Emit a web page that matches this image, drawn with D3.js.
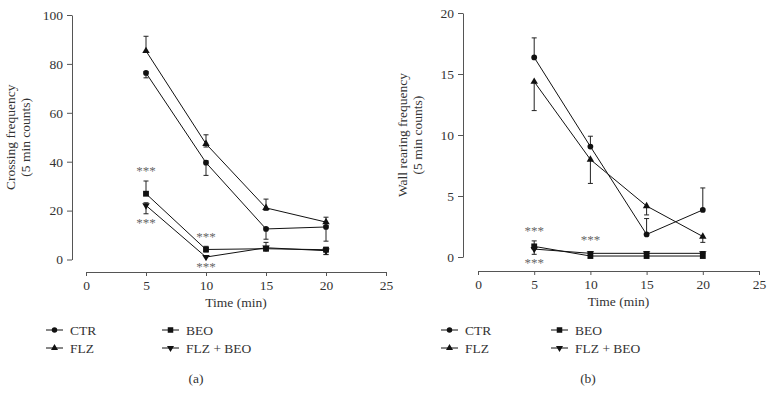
<!DOCTYPE html>
<html>
<head>
<meta charset="utf-8">
<script src="https://cdn.jsdelivr.net/npm/d3@7"></script>
<style>
  body { margin: 0; background: #fff; }
  svg text { font-family: "Liberation Serif", "DejaVu Serif", serif; fill: #333; }
</style>
</head>
<body>
<svg id="chart" width="773" height="400"></svg>
<script>
// ── data ──────────────────────────────────────────
const TIMES = [5, 10, 15, 20];
const X_TICKS = [0, 5, 10, 15, 20, 25];
const GROUPS = ["CTR", "FLZ", "BEO", "FLZ + BEO"];

// (a) crossing frequency
const CROSS_CTR     = [76.3, 39.6, 12.5, 13.3];
const CROSS_CTR_HI  = [0.5, 0.8, 0.5, 0.5];
const CROSS_CTR_LO  = [2.0, 5.2, 4.2, 5.8];
const CROSS_FLZ     = [85.3, 47.3, 21.1, 15.3];
const CROSS_FLZ_HI  = [6.0, 3.7, 3.6, 2.0];
const CROSS_FLZ_LO  = [0, 1.3, 1.0, 0];
const CROSS_BEO     = [26.9, 4.1, 4.4, 4.0];
const CROSS_BEO_HI  = [5.2, 1.3, 2.6, 1.0];
const CROSS_BEO_LO  = [0, 1.0, 0.8, 2.0];
const CROSS_FB      = [22.1, 1.0, 4.8, 3.6];
const CROSS_FB_HI   = [1.1, 0, 0, 0];
const CROSS_FB_LO   = [3.4, 0, 0.8, 1.5];
const CROSS_Y_TICKS = [0, 20, 40, 60, 80, 100];
const CROSS_STARS   = [[5, 36.5], [5, 15.2], [10, 9.8], [10, -2.6]];

// (b) wall rearing frequency
const REAR_CTR      = [16.36, 9.05, 1.85, 3.86];
const REAR_CTR_HI   = [1.6, 0.85, 1.3, 1.8];
const REAR_CTR_LO   = [0, 0, 0, 0];
const REAR_FLZ      = [14.37, 7.99, 4.18, 1.68];
const REAR_FLZ_HI   = [0, 0, 0, 0];
const REAR_FLZ_LO   = [2.37, 1.96, 0.73, 0.48];
const REAR_BEO      = [0.87, 0.08, 0.08, 0.08];
const REAR_BEO_HI   = [0.45, 0.2, 0.2, 0.2];
const REAR_BEO_LO   = [0, 0, 0, 0];
const REAR_FB       = [0.65, 0.3, 0.3, 0.3];
const REAR_FB_HI    = [0, 0.15, 0.15, 0.15];
const REAR_FB_LO    = [0.43, 0, 0, 0];
const REAR_Y_TICKS  = [0, 5, 10, 15, 20];
const REAR_STARS    = [[5, 2.25], [5, -0.45], [10, 1.45]];

// ── drawing ───────────────────────────────────────
const svg = d3.select("#chart");
const FS = "13.5px";
const MARKERS = {
    "CTR": { type: d3.symbolCircle, size: 26, rot: 0 },
    "FLZ": { type: d3.symbolTriangle, size: 24, rot: 0 },
    "BEO": { type: d3.symbolSquare, size: 34, rot: 0 },
    "FLZ + BEO": { type: d3.symbolTriangle, size: 24, rot: 180 }
};
const AXIS_COLOR = "#555";

function styleAxis(sel) {
    sel.selectAll(".domain").attr("stroke", AXIS_COLOR);
    sel.selectAll("line").attr("stroke", AXIS_COLOR);
    sel.selectAll("text").style("font-size", FS);
}

function drawMarker(g, name, x, y, scale = 1) {
    const m = MARKERS[name];
    g.append("path")
        .attr("d", d3.symbol().type(m.type).size(m.size * scale)())
        .attr("transform", `translate(${x},${y}) rotate(${m.rot})`)
        .attr("fill", "#111");
}

function drawPanel(p) {
    const x = d3.scaleLinear().domain([0, 25]).range([p.x0, p.x1]);
    const y = d3.scaleLinear().domain([0, p.yMax]).range([p.yBottom, p.yTop]);

    const xAx = svg.append("g").attr("transform", `translate(0,${p.xAxisY})`)
        .call(d3.axisBottom(x).tickValues(X_TICKS).tickSize(4).tickSizeOuter(0).tickPadding(4));
    styleAxis(xAx);
    const yAx = svg.append("g").attr("transform", `translate(${p.yAxisX},0)`)
        .call(d3.axisLeft(y).tickValues(p.yTicks).tickSize(5).tickSizeOuter(0).tickPadding(4));
    styleAxis(yAx);

    svg.append("text").attr("x", (p.x0 + p.x1) / 2).attr("y", p.xAxisY + 35)
        .attr("text-anchor", "middle").style("font-size", FS).text("Time (min)");

    const yMid = (p.yTop + p.yBottom) / 2;
    p.yLabel.forEach((line, i) => {
        svg.append("text")
            .attr("transform", `translate(${p.yLabelX + i * 15},${yMid}) rotate(-90)`)
            .attr("text-anchor", "middle").style("font-size", FS).text(line);
    });

    const line = d3.line().x((d, i) => x(TIMES[i])).y(d => y(d));
    const plot = svg.append("g");
    p.series.forEach(s => {
        // error bars
        s.v.forEach((v, i) => {
            const cx = x(TIMES[i]);
            const top = y(v + s.hi[i]), bot = y(v - s.lo[i]);
            if (s.hi[i] > 0 || s.lo[i] > 0) {
                plot.append("line").attr("x1", cx).attr("x2", cx).attr("y1", top).attr("y2", bot)
                    .attr("stroke", "#222").attr("stroke-width", 1);
            }
            if (s.hi[i] > 0) plot.append("line").attr("x1", cx - 2.5).attr("x2", cx + 2.5)
                .attr("y1", top).attr("y2", top).attr("stroke", "#222");
            if (s.lo[i] > 0) plot.append("line").attr("x1", cx - 2.5).attr("x2", cx + 2.5)
                .attr("y1", bot).attr("y2", bot).attr("stroke", "#222");
        });
        plot.append("path").attr("d", line(s.v)).attr("fill", "none")
            .attr("stroke", "#111").attr("stroke-width", 1);
        s.v.forEach((v, i) => drawMarker(plot, s.name, x(TIMES[i]), y(v)));
    });

    p.stars.forEach(([t, v]) => {
        svg.append("text").attr("x", x(t)).attr("y", y(v) + 5)
            .attr("text-anchor", "middle").style("font-size", "13px")
            .style("fill", "#666").text("***");
    });

    // legend
    GROUPS.forEach((name, i) => {
        const col = i < 2 ? 0 : 1, row = i % 2;
        const lx = p.legendX + col * p.legendColW;
        const ly = 330 + row * 18;
        svg.append("line").attr("x1", lx).attr("x2", lx + 17).attr("y1", ly).attr("y2", ly)
            .attr("stroke", "#111");
        drawMarker(svg, name, lx + 8.5, ly, 0.9);
        svg.append("text").attr("x", lx + 24).attr("y", ly + 4.5)
            .style("font-size", FS).text(name);
    });

    svg.append("text").attr("x", p.tagX).attr("y", 383)
        .attr("text-anchor", "middle").style("font-size", FS).text(p.tag);
}

drawPanel({
    x0: 86, x1: 386, xAxisY: 272, yAxisX: 72, yTop: 15, yBottom: 259.5, yMax: 100,
    yTicks: CROSS_Y_TICKS, yLabel: ["Crossing frequency", "(5 min counts)"], yLabelX: 15,
    stars: CROSS_STARS, legendX: 46, legendColW: 116, tag: "(a)", tagX: 196,
    series: [
        { name: "CTR", v: CROSS_CTR, hi: CROSS_CTR_HI, lo: CROSS_CTR_LO },
        { name: "FLZ", v: CROSS_FLZ, hi: CROSS_FLZ_HI, lo: CROSS_FLZ_LO },
        { name: "BEO", v: CROSS_BEO, hi: CROSS_BEO_HI, lo: CROSS_BEO_LO },
        { name: "FLZ + BEO", v: CROSS_FB, hi: CROSS_FB_HI, lo: CROSS_FB_LO }
    ]
});

drawPanel({
    x0: 478, x1: 759, xAxisY: 271, yAxisX: 463, yTop: 13, yBottom: 257, yMax: 20,
    yTicks: REAR_Y_TICKS, yLabel: ["Wall rearing frequency", "(5 min counts)"], yLabelX: 407,
    stars: REAR_STARS, legendX: 441, legendColW: 110, tag: "(b)", tagX: 588,
    series: [
        { name: "CTR", v: REAR_CTR, hi: REAR_CTR_HI, lo: REAR_CTR_LO },
        { name: "FLZ", v: REAR_FLZ, hi: REAR_FLZ_HI, lo: REAR_FLZ_LO },
        { name: "BEO", v: REAR_BEO, hi: REAR_BEO_HI, lo: REAR_BEO_LO },
        { name: "FLZ + BEO", v: REAR_FB, hi: REAR_FB_HI, lo: REAR_FB_LO }
    ]
});
</script>
</body>
</html>
